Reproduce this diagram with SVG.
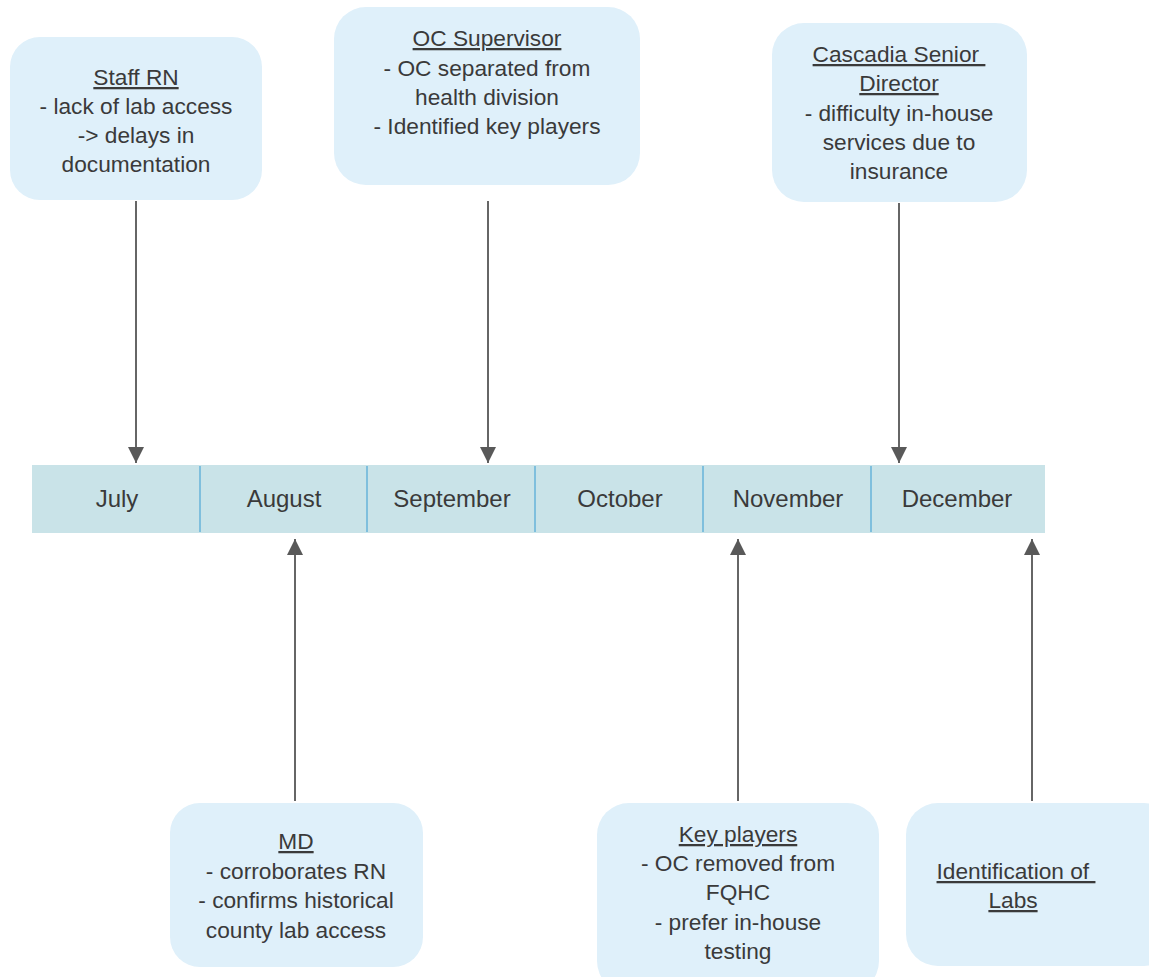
<svg xmlns="http://www.w3.org/2000/svg" width="1149" height="977" viewBox="0 0 1149 977">
<style>
.box{fill:#dff0fa;stroke:none}
.t{font-family:"Liberation Sans",Arial,sans-serif;font-size:22.7px;fill:#3a3a3a;text-anchor:middle}
.u{text-decoration:underline}
.m{font-family:"Liberation Sans",Arial,sans-serif;font-size:24px;fill:#3a3a3a;text-anchor:middle}
.conn{stroke:#666666;stroke-width:2;fill:none}
.div{stroke:#7fbfdd;stroke-width:2}
</style>
<defs>
<marker id="ah2" viewBox="0 0 16 16" refX="16" refY="8" markerWidth="16" markerHeight="17" markerUnits="userSpaceOnUse" orient="auto">
<path d="M0,0 L16,8 L0,16 Z" fill="#595959"/>
</marker>
</defs>
<rect width="1149" height="977" fill="#ffffff"/>

<g id="timeline">
<rect x="32" y="465" width="1013" height="68" fill="#c9e3e8"/>
<line class="div" x1="200" y1="466" x2="200" y2="532"/>
<line class="div" x1="367" y1="466" x2="367" y2="532"/>
<line class="div" x1="535" y1="466" x2="535" y2="532"/>
<line class="div" x1="703" y1="466" x2="703" y2="532"/>
<line class="div" x1="871" y1="466" x2="871" y2="532"/>
<text class="m" x="117" y="507">July</text>
<text class="m" x="284" y="507">August</text>
<text class="m" x="452" y="507">September</text>
<text class="m" x="620" y="507">October</text>
<text class="m" x="788" y="507">November</text>
<text class="m" x="957" y="507">December</text>
</g>

<g id="connectors">
<line class="conn" x1="136" y1="201" x2="136" y2="463" marker-end="url(#ah2)"/>
<line class="conn" x1="488" y1="201" x2="488" y2="463" marker-end="url(#ah2)"/>
<line class="conn" x1="899" y1="203" x2="899" y2="463" marker-end="url(#ah2)"/>
<line class="conn" x1="295" y1="801" x2="295" y2="539" marker-end="url(#ah2)"/>
<line class="conn" x1="738" y1="801" x2="738" y2="539" marker-end="url(#ah2)"/>
<line class="conn" x1="1032" y1="801" x2="1032" y2="539" marker-end="url(#ah2)"/>
</g>

<g id="staff-rn">
<rect class="box" x="10" y="37" width="252" height="163" rx="30"/>
<text class="t u" x="136" y="85">Staff RN</text>
<text class="t" x="136" y="114">- lack of lab access</text>
<text class="t" x="136" y="143">-&gt; delays in</text>
<text class="t" x="136" y="172">documentation</text>
</g>

<g id="oc-supervisor">
<rect class="box" x="334" y="7" width="306" height="178" rx="32"/>
<text class="t u" x="487" y="46">OC Supervisor</text>
<text class="t" x="487" y="76">- OC separated from</text>
<text class="t" x="487" y="105">health division</text>
<text class="t" x="487" y="134">- Identified key players</text>
</g>

<g id="cascadia">
<rect class="box" x="772" y="23" width="255" height="179" rx="32"/>
<text class="t u" x="899" y="62" xml:space="preserve">Cascadia Senior </text>
<text class="t u" x="899" y="91">Director</text>
<text class="t" x="899" y="121">- difficulty in-house</text>
<text class="t" x="899" y="150">services due to</text>
<text class="t" x="899" y="179">insurance</text>
</g>

<g id="md">
<rect class="box" x="170" y="803" width="253" height="164" rx="30"/>
<text class="t u" x="296" y="849">MD</text>
<text class="t" x="296" y="879">- corroborates RN</text>
<text class="t" x="296" y="908">- confirms historical</text>
<text class="t" x="296" y="938">county lab access</text>
</g>

<g id="key-players">
<rect class="box" x="597" y="803" width="282" height="190" rx="32"/>
<text class="t u" x="738" y="842">Key players</text>
<text class="t" x="738" y="871">- OC removed from</text>
<text class="t" x="738" y="900">FQHC</text>
<text class="t" x="738" y="930">- prefer in-house</text>
<text class="t" x="738" y="959">testing</text>
</g>

<g id="identification">
<rect class="box" x="906" y="803" width="270" height="163" rx="32"/>
<text class="t u" x="1016" y="879" xml:space="preserve">Identification of </text>
<text class="t u" x="1013" y="908">Labs</text>
</g>
</svg>
